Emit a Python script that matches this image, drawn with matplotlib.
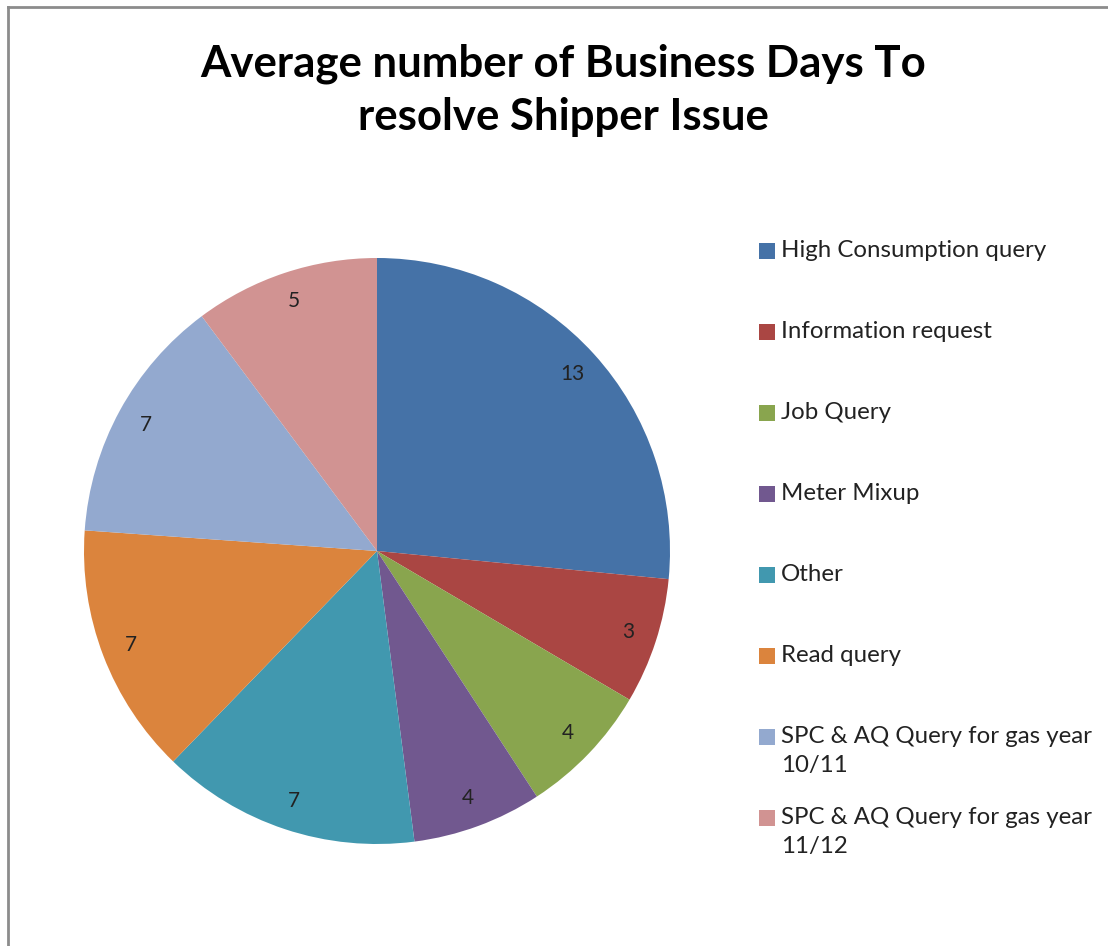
import matplotlib
matplotlib.use("Agg")
import matplotlib.pyplot as plt
import matplotlib.patches as mpatches
from matplotlib.lines import Line2D

# ── Data ──────────────────────────────────────────────────────────────────────
categories = [
    "High Consumption query",
    "Information request",
    "Job Query",
    "Meter Mixup",
    "Other",
    "Read query",
    "SPC & AQ Query for gas year\n10/11",
    "SPC & AQ Query for gas year\n11/12",
]
avg_days = [13.0, 3.4, 3.6, 3.5, 7.0, 6.8, 6.7, 5.0]
colors = ["#4572A7", "#AA4643", "#89A54E", "#71588F",
          "#4198AF", "#DB843D", "#93A9CF", "#D19392"]

FONT = "Lato"
W, H = 1108, 946

fig = plt.figure(figsize=(W / 100, H / 100), dpi=100)

# chart border (top and left)
fig.add_artist(Line2D([8 / W, 8 / W], [0, 1 - 7 / H], color="#8c8c8c", lw=2,
                      transform=fig.transFigure))
fig.add_artist(Line2D([8 / W, 1], [1 - 7 / H, 1 - 7 / H], color="#8c8c8c", lw=2,
                      transform=fig.transFigure))

# ── Pie ───────────────────────────────────────────────────────────────────────
cx, cy, r = 377, 551, 293
ax = fig.add_axes([(cx - r) / W, (H - cy - r) / H, 2 * r / W, 2 * r / H])
total = sum(avg_days)
wedges, texts, autotexts = ax.pie(
    avg_days, colors=colors, startangle=90, counterclock=False,
    autopct=lambda p: f"{p * total / 100:.0f}", pctdistance=0.9,
    wedgeprops=dict(linewidth=0), radius=1.0,
    textprops=dict(fontsize=15, family=FONT, color="#222222"))
ax.set_xlim(-1, 1)
ax.set_ylim(-1, 1)
ax.set_aspect("equal")
ax.axis("off")

# ── Title ─────────────────────────────────────────────────────────────────────
fig.text(563 / W, 1 - 90 / H, "Average number of Business Days To\nresolve Shipper Issue",
         ha="center", va="center", fontsize=31.5, fontweight="bold", family=FONT,
         linespacing=1.4)

# ── Legend (manual, Excel-style) ──────────────────────────────────────────────
y0, step = 251, 81
for i, (lbl, col) in enumerate(zip(categories, colors)):
    y = y0 + i * step
    fig.add_artist(mpatches.Rectangle((759 / W, 1 - (y + 8) / H), 16 / W, 16 / H,
                                      facecolor=col, edgecolor="none",
                                      transform=fig.transFigure))
    fig.text(781 / W, 1 - (y - 11) / H, lbl, ha="left", va="top", fontsize=17.3,
             family=FONT, color="#222222", linespacing=1.45)

fig.savefig("out.png", dpi=100)
